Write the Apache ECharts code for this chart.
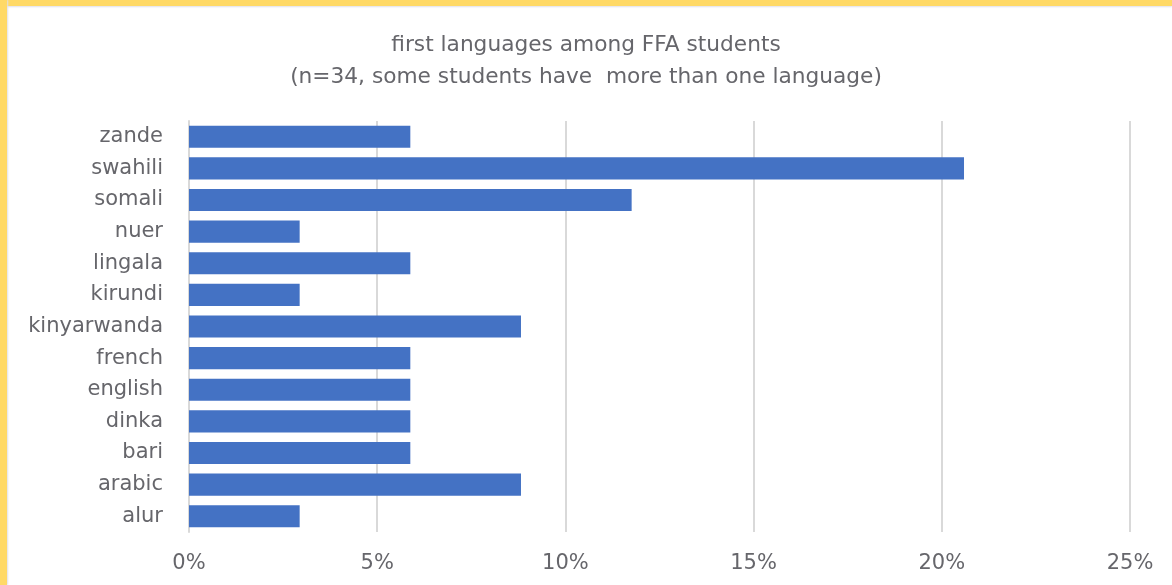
<!DOCTYPE html>
<html>
<head>
<meta charset="utf-8">
<script src="https://cdn.jsdelivr.net/npm/echarts@6/dist/echarts.min.js"></script>
<style>
html,body{margin:0;padding:0;background:#fff;}
#wrap{position:relative;width:1172px;height:585px;overflow:hidden;}
#chart{position:absolute;left:0;top:0;width:1172px;height:585px;}
#bt{position:absolute;left:0;top:0;width:1172px;height:6px;background:#FFD966;box-shadow:0 1px 2px #e0e0e8;}
#bl{position:absolute;left:0;top:0;width:7px;height:585px;background:#FFD966;box-shadow:1px 0 2px #e0e0e8;}
</style>
</head>
<body>
<div id="wrap"><div id="chart"></div><div id="bt"></div><div id="bl"></div></div>
<script>
const titleText = 'first languages among FFA students';
const subtitleText = '(n=34, some students have  more than one language)';
const categories = ['zande','swahili','somali','nuer','lingala','kirundi','kinyarwanda','french','english','dinka','bari','arabic','alur'];
// share of 34 students, in percent
const values = [5.88, 20.59, 11.76, 2.94, 5.88, 2.94, 8.82, 5.88, 5.88, 5.88, 5.88, 8.82, 2.94];
const xTicks = [0, 5, 10, 15, 20, 25];

const chart = echarts.init(document.getElementById('chart'));
const font = '"DejaVu Sans", sans-serif';
const txt = '#66666b';
chart.setOption({
  animation: false,
  title: {
    text: titleText + '\n' + subtitleText,
    left: 'center', top: 24,
    textStyle: { fontFamily: font, fontSize: 21.7, fontWeight: 'normal', color: txt, lineHeight: 32 }
  },
  grid: { left: 189, right: 42, top: 121, bottom: 53, containLabel: false },
  xAxis: {
    type: 'value', min: xTicks[0], max: xTicks[xTicks.length-1], interval: 5,
    axisLabel: { formatter: '{value}%', fontFamily: font, fontSize: 21, fontWeight: 'normal', color: txt, margin: 21 },
    axisLine: { show: false }, axisTick: { show: false },
    splitLine: { lineStyle: { color: '#d9d9d9', width: 2 } }
  },
  yAxis: {
    type: 'category', data: categories, inverse: true,
    axisLabel: { fontFamily: font, fontSize: 21, fontWeight: 'normal', color: txt, margin: 26 },
    axisLine: { lineStyle: { color: '#d9d9d9', width: 2 } },
    axisTick: { show: false }
  },
  series: [{
    type: 'bar', data: values, barCategoryGap: '30%',
    itemStyle: { color: '#4472C4' }
  }]
});
</script>
</body>
</html>
